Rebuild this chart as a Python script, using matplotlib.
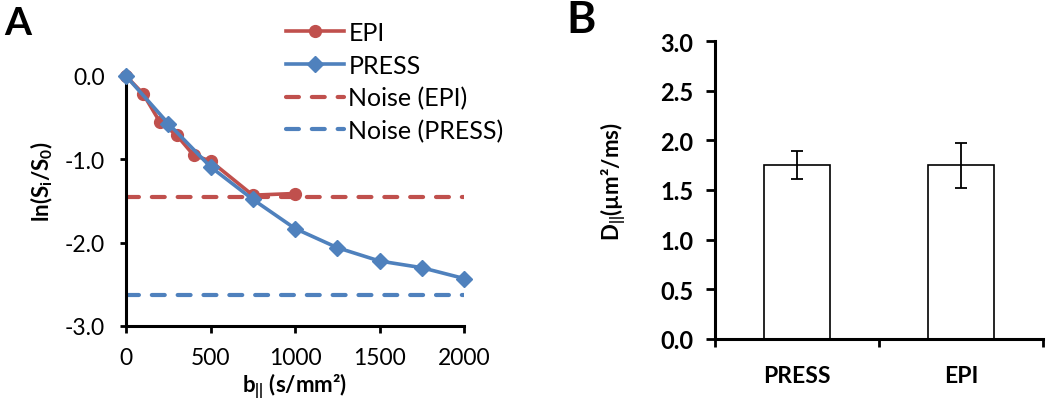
import matplotlib
matplotlib.use('Agg')
import matplotlib.pyplot as plt

# 数据
b_epi = [0, 100, 200, 300, 400, 500, 750, 1000]
ln_epi = [0.0, -0.21, -0.55, -0.71, -0.95, -1.02, -1.43, -1.41]
b_press = [0, 250, 500, 750, 1000, 1250, 1500, 1750, 2000]
ln_press = [0.0, -0.57, -1.09, -1.48, -1.83, -2.06, -2.22, -2.30, -2.43]
noise_b = [0, 2000]
noise_epi = -1.45
noise_press = -2.63

methods = ['PRESS', 'EPI']
d_par = [1.75, 1.75]
d_err = [0.14, 0.225]

red = '#C0504D'
blue = '#4F81BD'

plt.rcParams['font.family'] = ['Lato', 'DejaVu Sans']
plt.rcParams['axes.unicode_minus'] = False
plt.rcParams['mathtext.fontset'] = 'custom'
plt.rcParams['mathtext.rm'] = 'Lato:bold'
plt.rcParams['mathtext.it'] = 'Lato:bold:italic'
plt.rcParams['mathtext.bf'] = 'Lato:bold'

fig = plt.figure(figsize=(10.5, 4.06), dpi=100)

# ---- A ----
ax1 = fig.add_axes([126/1050, 1-327/406, 338/1050, 250/406])
ax1.plot(b_epi, ln_epi, color=red, lw=2.6, marker='o', ms=8.5, label='EPI', clip_on=False, zorder=3)
ax1.plot(b_press, ln_press, color=blue, lw=2.6, marker='D', ms=8.5, label='PRESS', clip_on=False, zorder=4)
ax1.plot(noise_b, [noise_epi]*2, color=red, lw=3, dashes=(3.1, 3.1), dash_capstyle='round', label='Noise (EPI)')
ax1.plot(noise_b, [noise_press]*2, color=blue, lw=3, dashes=(3.1, 3.1), dash_capstyle='round', label='Noise (PRESS)')
ax1.set_xlim(0, 2000)
ax1.set_ylim(-3, 0)
ax1.set_xticks([0, 500, 1000, 1500, 2000])
ax1.set_yticks([-3, -2, -1, 0])
ax1.set_yticklabels(['-3.0', '-2.0', '-1.0', '0.0'])
for s in ['top', 'right']:
    ax1.spines[s].set_visible(False)
for s in ['left', 'bottom']:
    ax1.spines[s].set_linewidth(2.2)
ax1.tick_params(axis='both', labelsize=16.5, width=2, direction='out')
ax1.tick_params(axis='y', length=4, pad=11)
ax1.tick_params(axis='x', length=5, pad=10)
ax1.set_xlabel('b$_\\mathrm{||}$ (s/mm²)', fontsize=16, fontweight='bold', labelpad=2)
ax1.set_ylabel('ln(S$_\\mathrm{i}$/S$_\\mathrm{0}$)', fontsize=16, fontweight='bold')
ax1.yaxis.set_label_coords(-0.21, 0.58)
ax1.legend(loc='upper left', bbox_to_anchor=(286/1050, 1-22/406), bbox_transform=fig.transFigure,
           frameon=False, fontsize=18, handlelength=2.3, handletextpad=0.2, labelspacing=0.38,
           borderpad=0, borderaxespad=0)

# ---- B ----
ax2 = fig.add_axes([715/1050, 1-340/406, 328/1050, 298/406])
ax2.bar(range(len(methods)), d_par, width=0.4, color='white', edgecolor='black', lw=1.2,
        yerr=d_err, capsize=4, error_kw=dict(elinewidth=1.3, capthick=1.3))
ax2.set_xlim(-0.5, 1.5)
ax2.set_ylim(0, 3)
ax2.set_yticks([0, 0.5, 1, 1.5, 2, 2.5, 3])
ax2.set_yticklabels(['%.1f' % v for v in [0, 0.5, 1, 1.5, 2, 2.5, 3]], fontweight='bold')
ax2.set_xticks(range(len(methods)))
ax2.set_xticklabels(methods, fontweight='bold')
ax2.set_xticks([-0.5, 0.5, 1.5], minor=True)
for s in ['top', 'right']:
    ax2.spines[s].set_visible(False)
for s in ['left', 'bottom']:
    ax2.spines[s].set_linewidth(2.2)
ax2.tick_params(axis='y', labelsize=17, length=6.5, width=2, pad=9)
ax2.tick_params(axis='x', which='major', labelsize=16.5, length=0, pad=19)
ax2.tick_params(axis='x', which='minor', length=6, width=2)
ax2.set_ylabel('D$_\\mathrm{||}$(µm²/ms)', fontsize=16, fontweight='bold')
ax2.yaxis.set_label_coords(-0.265, 0.53)

fig.text(4/1050, 1-35/406, 'A', fontsize=28, fontweight='bold', va='baseline')
fig.text(566/1050, 1-33/406, 'B', fontsize=32, fontweight='bold', va='baseline')

fig.savefig('out.png', dpi=100)
